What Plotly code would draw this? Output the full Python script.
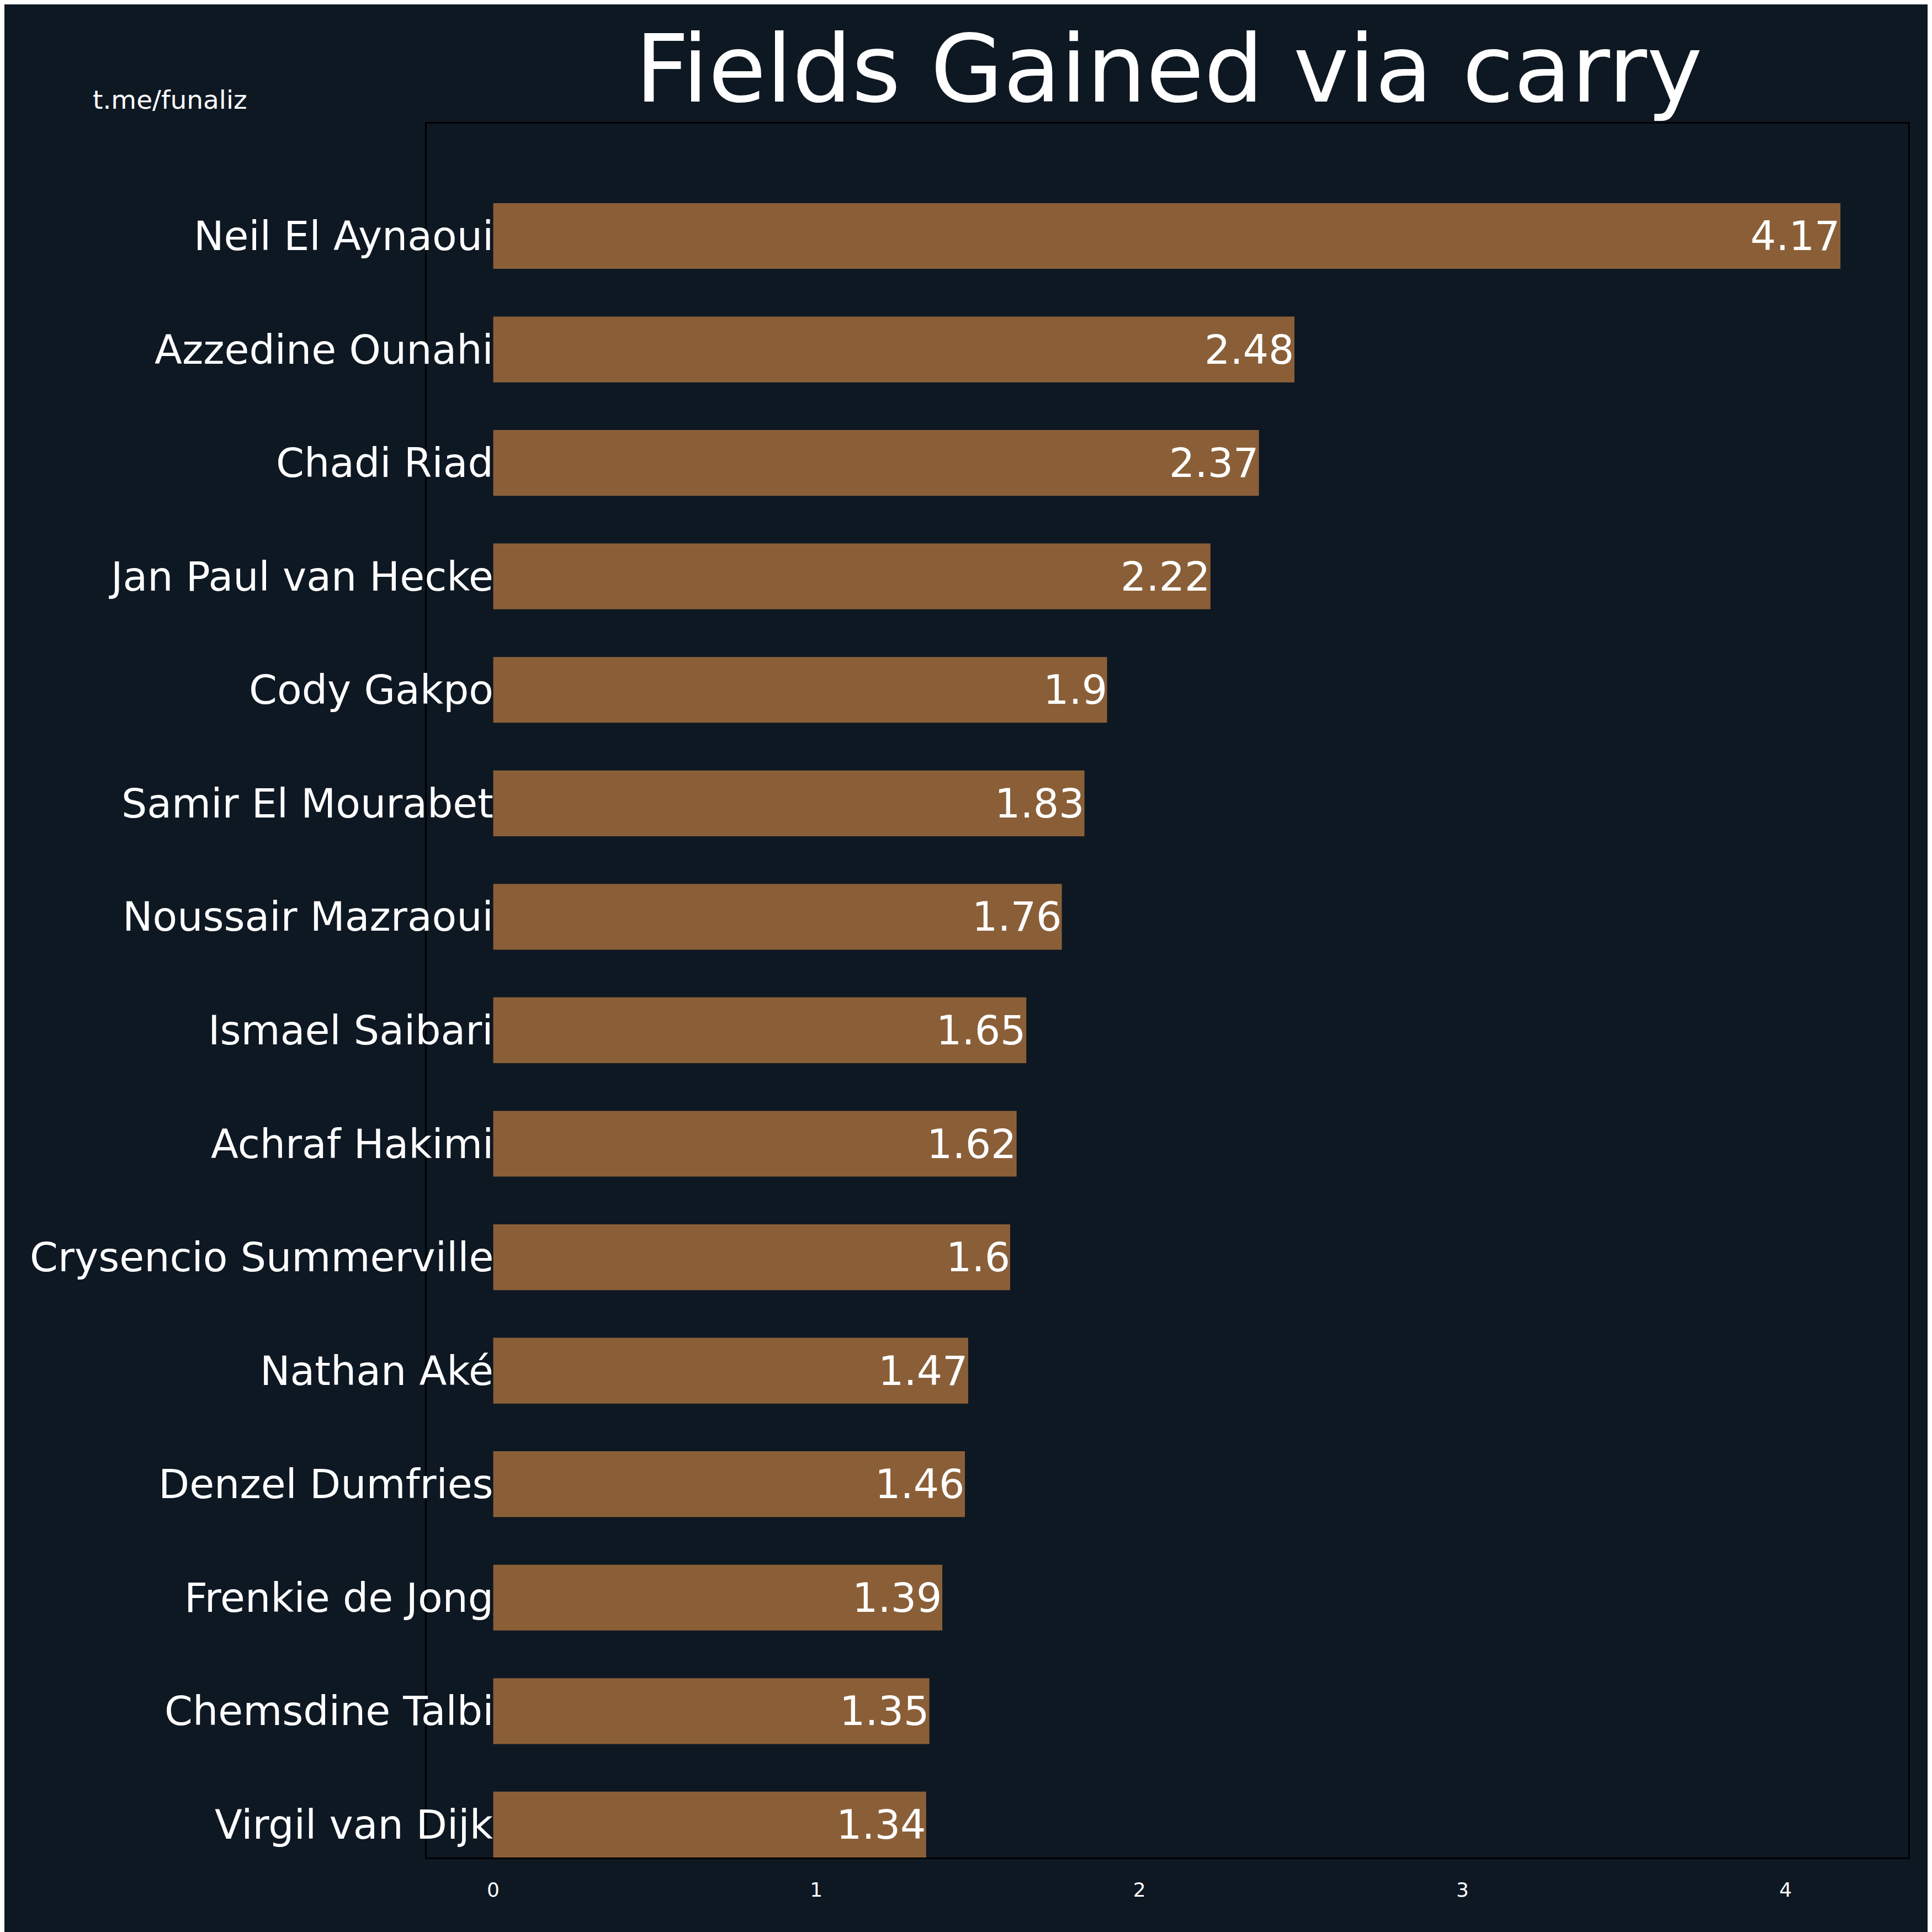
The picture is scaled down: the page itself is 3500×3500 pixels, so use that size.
import plotly.graph_objects as go

players = ["Neil El Aynaoui", "Azzedine Ounahi", "Chadi Riad", "Jan Paul van Hecke",
           "Cody Gakpo", "Samir El Mourabet", "Noussair Mazraoui", "Ismael Saibari",
           "Achraf Hakimi", "Crysencio Summerville", "Nathan Aké", "Denzel Dumfries",
           "Frenkie de Jong", "Chemsdine Talbi", "Virgil van Dijk"]
fields = [4.17, 2.48, 2.37, 2.22, 1.9, 1.83, 1.76, 1.65, 1.62, 1.6, 1.47, 1.46, 1.39, 1.35, 1.34]
ticks = [0, 1, 2, 3, 4]

bg = "#0e1823"
font = "DejaVu Sans"
pos = list(range(len(players)))

fig = go.Figure(go.Bar(x=fields, y=pos, orientation="h", width=0.58,
                       marker=dict(color="#8a5f38", line=dict(width=0))))

for i, (p, v) in enumerate(zip(players, fields)):
    fig.add_annotation(x=0, y=i, text=p, xanchor="right", showarrow=False,
                       font=dict(family=font, size=73, color="white"), xshift=2)
    fig.add_annotation(x=v, y=i, text=str(v), xanchor="right", showarrow=False,
                       font=dict(family=font, size=73, color="white"), xshift=2)

fig.add_annotation(x=-0.226, y=1.014, xref="paper", yref="paper", text="t.me/funaliz",
                   xanchor="left", yanchor="middle", showarrow=False,
                   font=dict(family=font, size=47, color="white"))

fig.update_layout(
    width=3500, height=3500, paper_bgcolor=bg, plot_bgcolor=bg,
    margin=dict(l=765, r=51, t=216, b=143),
    title=dict(text="Fields Gained via carry", x=0.6027, xanchor="center",
               y=1 - 116 / 3500, yanchor="middle",
               font=dict(family=font, size=170, color="white")),
    xaxis=dict(range=[-0.206, 4.38], tickvals=ticks, showgrid=False, zeroline=False,
               ticks="outside", ticklen=25, tickcolor=bg,
               tickfont=dict(family=font, size=36, color="white"),
               showline=True, linecolor="black", linewidth=3, mirror=True),
    yaxis=dict(range=[14.29, -0.99], showticklabels=False, showgrid=False, zeroline=False,
               showline=True, linecolor="black", linewidth=3, mirror=True),
    showlegend=False,
)

fig.write_html("out.html")
